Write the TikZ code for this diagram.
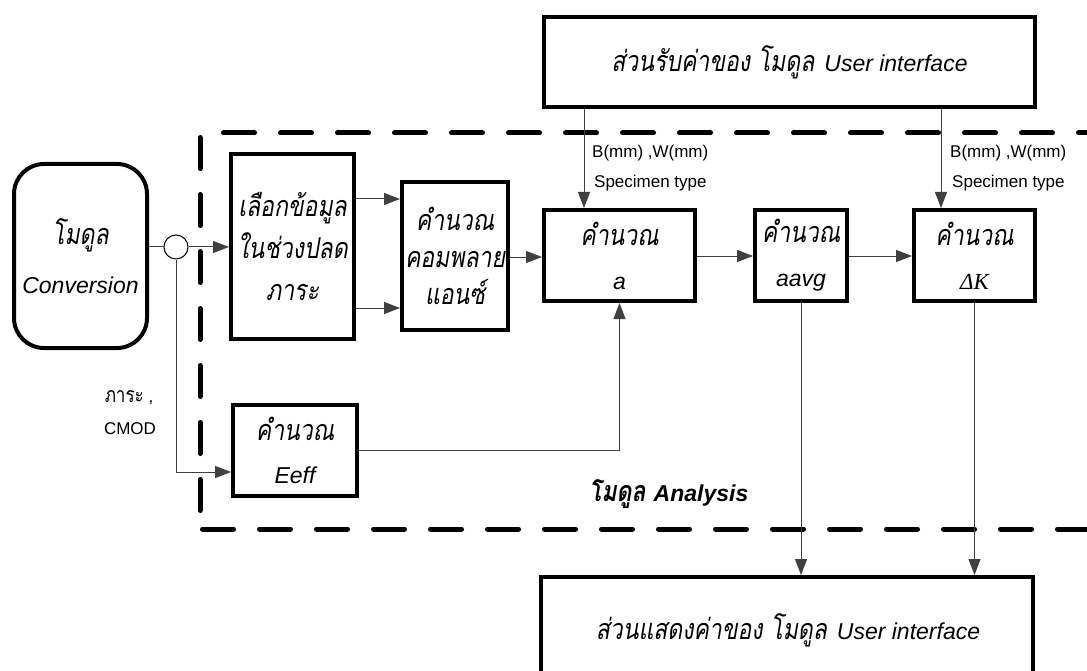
\documentclass[tikz,border=0pt]{standalone}
\usepackage{fontspec}
\setmainfont{Liberation Sans}
\newfontfamily\thaifont[Script=Thai,Scale=1.25,FakeStretch=0.8]{Loma}
\newfontfamily\greekserif{Liberation Serif}
\usetikzlibrary{arrows.meta,calc}

% Thai and Latin text styles used inside the boxes
\newcommand\thaiit{\thaifont\itshape}
\newcommand\latit{\rmfamily\itshape}

\begin{document}
\begin{tikzpicture}[x=1pt,y=-1pt,
  box/.style={draw=black, line width=4pt, align=center, inner sep=0pt,
    font=\fontsize{23}{#1}\selectfont},
  box/.default=44,
  conn/.style={draw=black!75, line width=1pt},
  arr/.style={conn, -{Triangle[length=16pt,width=12pt]}},
  frame/.style={draw=black, line width=5pt, line cap=round,
    dash pattern=on 31pt off 26pt},
  lbl/.style={font=\fontsize{17}{20}\selectfont, inner sep=0pt}
]
\clip (0,0) rectangle (1087,671);
\fill[white] (0,0) rectangle (1087,671);

% dashed frame of the Analysis module (open to the right)
\draw[frame] (223.5,133) -- (1100,133);
\draw[frame] (200,137.5) -- (200,515);
\draw[frame] (202.5,529) -- (1100,529);

% boxes
\node[box=49, rounded corners=30pt, minimum width=133, minimum height=184] (conv) at (80.5,256)
  {{\thaiit โมดูล}\\{\latit Conversion}};
\node[box=42, minimum width=123, minimum height=185] (b1) at (292.5,246.5)
  {{\thaiit เลือกข้อมูล}\\{\thaiit ในช่วงปลด}\\{\thaiit ภาระ}};
\node[box=37, minimum width=106, minimum height=148] (b2) at (455,256)
  {{\thaiit คำนวณ}\\{\thaiit คอมพลาย}\\{\thaiit แอนซ์}};
\node[box=44, minimum width=151, minimum height=91] (a) at (619.5,255.5)
  {{\thaiit คำนวณ}\\{\latit a}};
\node[box=44, minimum width=92, minimum height=91] (aavg) at (801,255.5)
  {{\thaiit คำนวณ}\\{\latit aavg}};
\node[box=44, minimum width=121, minimum height=91] (dk) at (974.5,255.5)
  {{\thaiit คำนวณ}\\{\greekserif\itshape ΔK}};
\node[box=43, minimum width=124, minimum height=91] (eeff) at (295,450.5)
  {{\thaiit คำนวณ}\\{\latit Eeff}};
\node[box=44, minimum width=491, minimum height=90] (uin) at (789.5,62)
  {{\thaiit ส่วนรับค่าของ โมดูล}\hspace{10pt}{\latit User interface}};
\node[box=44, minimum width=492, minimum height=140] (uout) at (787,647) {};
\node[inner sep=0pt, font=\fontsize{23}{28}\selectfont] (uoutlbl) at (788,630)
  {{\thaiit ส่วนแสดงค่าของ โมดูล}\hspace{10pt}{\latit User interface}};

% junction point after the Conversion module
\node[circle, draw=black, line width=1pt, minimum size=24pt, inner sep=0pt] (circ) at (176,247) {};

% labels
\node[lbl, anchor=west] (l1) at (592,153) {B(mm) ,W(mm)};
\node[lbl, anchor=west] (l2) at (594,183) {Specimen type};
\node[lbl, anchor=west] (l3) at (950,153) {B(mm) ,W(mm)};
\node[lbl, anchor=west] (l4) at (952,183) {Specimen type};
\node[lbl] (l5) at (129,398) {{\thaifont ภาระ} ,};
\node[lbl] (l6) at (130,429) {CMOD};
\node[inner sep=0pt, anchor=west, font=\fontsize{23}{28}\selectfont\bfseries\itshape] (ana) at (589,494)
  {{\thaifont โมดูล}\hspace{8pt}Analysis};

% connectors
\draw[conn] (circ.west -| conv.east) -- (circ.west);
\draw[arr] (circ.east) -- (circ.east -| b1.west);
\draw[arr] (circ.south) |- ($(eeff.west)+(0,21.5)$);
\draw[arr] (b1.east |- 0,199) -- (b2.west |- 0,199);
\draw[arr] (b1.east |- 0,308) -- (b2.west |- 0,308);
\draw[arr] (b2.east |- 0,257) -- (a.west |- 0,257);
\draw[arr] (a.east |- 0,256) -- (aavg.west |- 0,256);
\draw[arr] (aavg.east |- 0,256) -- (dk.west |- 0,256);
\draw[arr] (uin.south -| 584,0) -- (a.north -| 584,0);
\draw[arr] (uin.south -| 941,0) -- (dk.north -| 941,0);
\draw[arr] (eeff.east) -| (a.south);
\draw[arr] (aavg.south) -- (uout.north -| aavg.south);
\draw[arr] (dk.south) -- (uout.north -| dk.south);
\end{tikzpicture}
\end{document}
